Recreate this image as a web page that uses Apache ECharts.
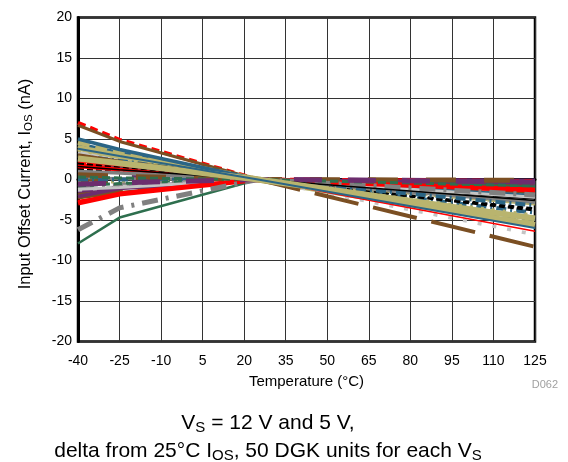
<!DOCTYPE html>
<html>
<head>
<meta charset="utf-8">
<script src="https://cdn.jsdelivr.net/npm/echarts@6/dist/echarts.min.js"></script>
<style>
html,body{margin:0;padding:0;background:#fff;}
#c{width:568px;height:462px;}
</style>
</head>
<body>
<div id="c"></div>
<script>
// Temperatures (°C) at which each unit was measured
const temps = [-40, -25, 25, 125];
// x tick labels
const xTicks = [-40, -25, -10, 5, 20, 35, 50, 65, 80, 95, 110, 125];
// y tick labels
const yTicks = [-20, -15, -10, -5, 0, 5, 10, 15, 20];

// delta Ios (nA) from 25°C value, VS = 12 V units (values at temps)
const unitsVs12 = [
  [7.0, 4.9, 0, -0.2],
  [6.7, 4.7, 0, -0.5],
  [4.6, 3.4, 0, -2.9],
  [5.0, 3.7, 0, -2.0],
  [1.0, 0.8, 0, -2.8],
  [-7.9, -4.7, 0, -0.9],
  [-2.1, -1.1, 0, -0.4],
  [2.0, 1.6, 0, -3.8],
  [-1.2, -1.0, 0, -2.2],
  [-2.9, -1.8, 0, -1.3],
  [0.6, 0.4, 0, -0.1],
  [3.6, 2.6, 0, -4.4],
  [2.9, 2.3, 0, -3.2],
  [-6.2, -3.5, 0, -1.9],
  [0.3, 0.2, 0, -0.8],
  [-0.6, -0.4, 0, -0.3],
  [1.6, 1.2, 0, -2.6],
  [2.4, 1.9, 0, -6.8],
  [2.2, 1.7, 0, -6.4],
  [3.0, 2.2, 0, -8.3],
  [2.6, 2.0, 0, -4.8],
  [3.8, 2.9, 0, -6.0]
];
// delta Ios (nA) from 25°C value, VS = 5 V units (values at temps)
const unitsVs5 = [
  [1.9, 1.4, 0, -1.6],
  [-2.3, -1.6, 0, -0.7],
  [4.2, 3.1, 0, -5.3],
  [4.4, 3.3, 0, -4.9],
  [0.2, 0.1, 0, -1.1],
  [3.1, 2.4, 0, -0.9],
  [-1.6, -0.9, 0, -0.6],
  [1.3, 1.0, 0, -3.6],
  [3.3, 2.6, 0, -1.8],
  [1.7, 1.3, 0, -1.3],
  [-0.3, -0.2, 0, -0.4],
  [-0.4, -0.3, 0, -3.0],
  [0.0, 0.0, 0, -4.1],
  [-1.0, -0.7, 0, -2.0],
  [-0.8, -0.5, 0, -0.3],
  [0.8, 0.6, 0, -0.2],
  [2.6, 2.0, 0, -2.4],
  [-1.3, -0.9, 0, -5.6],
  [-2.6, -1.9, 0, -2.0],
  [-1.9, -1.5, 0, -1.5],
  [3.9, 2.9, 0, -5.6],
  [2.3, 1.6, 0, -4.6]
];

// styles (kept apart from data)
const RED = '#FF0000', BROWN = '#7B4F23', KHAKI = '#B9B46E', STEEL = '#2B6585',
      GRAY = '#808080', GREEN = '#2E6F4E', PURPLE = '#6C2D6E', BLACK = '#000000', LGRAY = '#C4C4C4';
const lineStyles = [
  {c: RED, w: 4, d: [8, 5]},
  {c: BROWN, w: 3, d: 'solid'},
  {c: KHAKI, w: 5, d: [12, 6]},
  {c: STEEL, w: 3.5, d: 'solid'},
  {c: GRAY, w: 3.5, d: 'solid'},
  {c: GREEN, w: 2.5, d: 'solid'},
  {c: PURPLE, w: 3.5, d: 'solid'},
  {c: BLACK, w: 2.5, d: [6, 3]},
  {c: LGRAY, w: 3, d: 'solid'},
  {c: RED, w: 5, d: 'solid'},
  {c: BROWN, w: 5, d: [30, 28]},
  {c: KHAKI, w: 3, d: [3, 8]},
  {c: STEEL, w: 4, d: [10, 4, 2, 4]},
  {c: GRAY, w: 5, d: [16, 8, 3, 8]},
  {c: GREEN, w: 3, d: [8, 4]},
  {c: PURPLE, w: 5, d: [28, 26]},
  {c: BLACK, w: 1.5, d: 'solid'},
  {c: LGRAY, w: 3.5, d: [4, 11]},
  {c: RED, w: 1.5, d: 'solid'},
  {c: BROWN, w: 4, d: [45, 15]},
  {c: KHAKI, w: 6, d: 'solid'},
  {c: STEEL, w: 2, d: 'solid'}
];

const X0 = xTicks[0]; // axis is offset so that ticks start at 0
const series = [];
[unitsVs5, unitsVs12].forEach(function (set) {
  set.forEach(function (row, i) {
    const st = lineStyles[i % lineStyles.length];
    series.push({
      type: 'line',
      data: temps.map(function (t, k) { return [t - X0, row[k]]; }),
      symbol: 'none',
      silent: true,
      lineStyle: {color: st.c, width: st.w, type: st.d, cap: 'butt'}
    });
  });
});

const chart = echarts.init(document.getElementById('c'), null, {renderer: 'canvas'});
const FONT = 'Liberation Sans, Arial, sans-serif';
chart.setOption({
  animation: false,
  backgroundColor: '#fff',
  grid: {left: 78, right: 33, top: 17.5, bottom: 120.5, show: true, borderColor: '#000', borderWidth: 2.5, containLabel: false},
  xAxis: {
    type: 'value',
    min: 0, max: xTicks[xTicks.length - 1] - X0, interval: xTicks[1] - xTicks[0],
    name: 'Temperature (°C)', nameLocation: 'middle', nameGap: 33,
    nameTextStyle: {fontFamily: FONT, fontSize: 15, color: '#000'},
    axisLine: {show: true, lineStyle: {color: '#000', width: 3}},
    axisTick: {show: false},
    axisLabel: {fontFamily: FONT, fontSize: 14, color: '#000', margin: 13,
      formatter: function (v) { return String(v + X0); }},
    splitLine: {show: true, lineStyle: {color: '#333', width: 1}}
  },
  yAxis: {
    type: 'value',
    min: yTicks[0], max: yTicks[yTicks.length - 1], interval: yTicks[1] - yTicks[0],
    name: '{a|Input Offset Current, I}{s|OS}{a| (nA)}', nameLocation: 'middle', nameGap: 43, nameRotate: 90,
    nameTextStyle: {fontFamily: FONT, color: '#000', padding: [0, 9, 0, 0],
      rich: {a: {fontFamily: FONT, fontSize: 16.5, lineHeight: 20, color: '#000'},
             s: {fontFamily: FONT, fontSize: 11.5, lineHeight: 11, verticalAlign: 'bottom', color: '#000'}}},
    axisLine: {show: true, lineStyle: {color: '#000', width: 3}},
    axisTick: {show: false},
    axisLabel: {fontFamily: FONT, fontSize: 14, color: '#000', margin: 6},
    splitLine: {show: true, lineStyle: {color: '#333', width: 1}}
  },
  graphic: [
    {type: 'text', right: 10, top: 379, silent: true,
      style: {text: 'D062', fontFamily: FONT, fontSize: 11, fill: '#A0A0A0'}},
    {type: 'text', x: 268, y: 423, silent: true,
      style: {text: '{a|V}{s|S}{a| = 12 V and 5 V,}', align: 'center', verticalAlign: 'middle',
        rich: {a: {fontFamily: FONT, fontSize: 21, lineHeight: 25, fill: '#000'},
               s: {fontFamily: FONT, fontSize: 15, lineHeight: 15, verticalAlign: 'bottom', fill: '#000'}}}},
    {type: 'text', x: 268, y: 451, silent: true,
      style: {text: '{a|delta from 25°C I}{s|OS}{a|, 50 DGK units for each V}{s|S}', align: 'center', verticalAlign: 'middle',
        rich: {a: {fontFamily: FONT, fontSize: 21, lineHeight: 25, fill: '#000'},
               s: {fontFamily: FONT, fontSize: 15, lineHeight: 15, verticalAlign: 'bottom', fill: '#000'}}}}
  ],
  series: series
});
</script>
</body>
</html>
